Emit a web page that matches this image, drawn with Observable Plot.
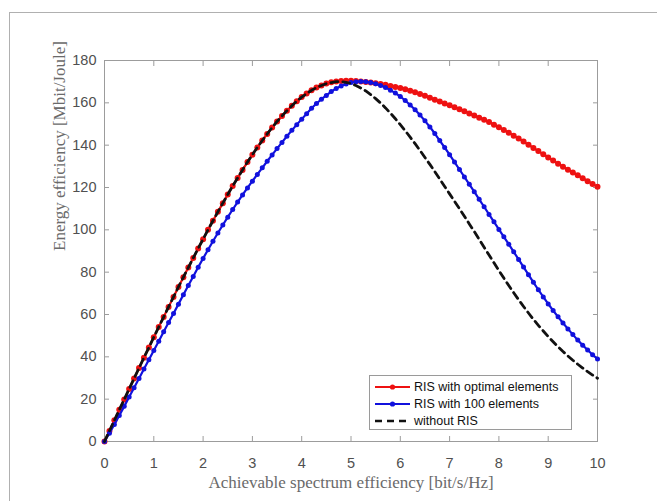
<!DOCTYPE html>
<html>
<head>
<meta charset="utf-8">
<script src="https://cdn.jsdelivr.net/npm/d3@7"></script>
<script src="https://cdn.jsdelivr.net/npm/@observablehq/plot@0.6"></script>
<style>
html,body{margin:0;padding:0;background:#fff;}
#wrap{position:relative;width:657px;height:501px;overflow:hidden;background:#fff;}
#chart{position:absolute;left:0;top:0;}
#border{position:absolute;left:9px;top:12px;width:700px;height:600px;border-left:1px solid #b0b0b0;border-top:1px solid #b0b0b0;pointer-events:none;}
#legend{position:absolute;left:369px;top:375px;width:203px;height:55px;border:1px solid #9a9a9a;background:#fff;box-sizing:border-box;padding-top:2px;font-family:"Liberation Sans",Arial,sans-serif;font-size:12.5px;color:#111;}
.row{display:flex;align-items:center;height:17px;white-space:nowrap;}
.row svg{margin-left:5px;margin-right:4px;flex:none;}
</style>
</head>
<body>
<div id="wrap"><div id="chart"></div><div id="border"></div><div id="legend"></div></div>
<script>
// ---- data ----
const xTicks = [0,1,2,3,4,5,6,7,8,9,10];
const yTicks = [0,20,40,60,80,100,120,140,160,180];
const xLabel = "Achievable spectrum efficiency [bit/s/Hz]";
const yLabel = "Energy efficiency [Mbit/Joule]";
const seriesNames = ["RIS with optimal elements", "RIS with 100 elements", "without RIS"];
const seriesColors = ["#ee1111", "#1111dd", "#111111"];

const se = [0,0.1,0.2,0.3,0.4,0.5,0.6,0.7,0.8,0.9,
  1,1.1,1.2,1.3,1.4,1.5,1.6,1.7,1.8,1.9,
  2,2.1,2.2,2.3,2.4,2.5,2.6,2.7,2.8,2.9,
  3,3.1,3.2,3.3,3.4,3.5,3.6,3.7,3.8,3.9,
  4,4.1,4.2,4.3,4.4,4.5,4.6,4.7,4.8,4.9,
  5,5.1,5.2,5.3,5.4,5.5,5.6,5.7,5.8,5.9,
  6,6.1,6.2,6.3,6.4,6.5,6.6,6.7,6.8,6.9,
  7,7.1,7.2,7.3,7.4,7.5,7.6,7.7,7.8,7.9,
  8,8.1,8.2,8.3,8.4,8.5,8.6,8.7,8.8,8.9,
  9,9.1,9.2,9.3,9.4,9.5,9.6,9.7,9.8,9.9,10];

const eeOptimal = [0,5.0,10.0,15.0,19.9,24.8,29.8,34.7,39.6,44.4,
  49.3,54.1,58.8,63.6,68.3,73.0,77.6,82.2,86.7,91.2,
  95.6,100.0,104.3,108.5,112.6,116.7,120.7,124.5,128.3,132.0,
  135.5,138.9,142.2,145.3,148.3,151.2,153.8,156.3,158.6,160.8,
  162.7,164.4,165.9,167.2,168.2,169.1,169.7,170.1,170.3,170.4,
  170.4,170.3,170.1,169.9,169.6,169.3,168.9,168.5,168.0,167.5,
  167.0,166.4,165.7,165.0,164.2,163.3,162.4,161.5,160.6,159.7,
  158.8,157.9,157.0,156.0,155.0,154.0,153.0,152.0,150.9,149.7,
  148.5,147.2,145.9,144.5,143.1,141.7,140.2,138.7,137.2,135.7,
  134.2,132.7,131.2,129.8,128.4,127.1,125.8,124.4,123.0,121.7,120.4];

const ee100 = [0,3.9,8.0,12.3,16.6,21.0,25.4,29.8,34.2,38.6,
  43.0,47.4,51.8,56.2,60.5,64.9,69.3,73.7,78.0,82.3,
  86.5,90.6,94.6,98.5,102.3,106.0,109.6,113.1,116.5,119.8,
  123.0,126.2,129.3,132.4,135.4,138.4,141.3,144.2,147.0,149.7,
  152.3,154.8,157.4,159.7,161.7,163.5,165.3,166.8,168.0,168.9,
  169.6,170.0,170.1,170.0,169.6,169.0,168.2,167.2,166.0,164.6,
  163.0,161.1,159.0,156.7,154.2,151.5,148.6,145.5,142.2,138.9,
  135.5,132.0,128.5,125.0,121.5,118.0,114.4,110.9,107.3,103.8,
  100.2,96.7,93.2,89.6,86.0,82.4,78.8,75.2,71.7,68.3,
  65.0,61.9,58.9,56.0,53.2,50.5,47.9,45.5,43.2,41.0,39.0];

const eeNoRis = [0,5.0,10.0,15.0,19.9,24.8,29.8,34.7,39.6,44.4,
  49.3,54.1,58.8,63.6,68.3,73.0,77.6,82.2,86.7,91.2,
  95.6,100.0,104.3,108.5,112.6,116.7,120.7,124.5,128.3,132.0,
  135.5,138.9,142.2,145.3,148.3,151.2,153.8,156.3,158.6,160.8,
  162.7,164.4,165.9,167.2,168.2,169.1,169.6,170.0,170.0,169.7,
  169.1,168.2,167.0,165.6,163.9,162.0,159.9,157.6,155.1,152.5,
  149.7,146.8,143.8,140.7,137.5,134.2,130.9,127.5,124.0,120.5,
  117.0,113.5,110.0,106.4,102.8,99.2,95.5,91.8,88.1,84.4,
  80.8,77.2,73.7,70.3,67.0,63.8,60.7,57.7,54.9,52.2,
  49.6,47.1,44.7,42.5,40.4,38.4,36.5,34.7,33.0,31.4,29.9];

// ---- build table ----
const rows = se.map((x, i) => ({se: x, opt: eeOptimal[i], r100: ee100[i], none: eeNoRis[i]}));

const frameGray = "#9c9c9c";
const tickText = "#505050";
const labelGray = "#6a6a6a";
const serif = "'Liberation Serif', 'Times New Roman', serif";

const chart = Plot.plot({
  width: 657,
  height: 501,
  marginLeft: 104,
  marginRight: 60,
  marginTop: 60,
  marginBottom: 60,
  x: {domain: [0, 10]},
  y: {domain: [0, 180]},
  style: {fontFamily: "'Liberation Sans', Arial, sans-serif", fontSize: "14.5px", background: "transparent", color: tickText},
  marks: [
    Plot.axisX(xTicks, {anchor: "bottom", tickSize: -5, tickPadding: 21, stroke: frameGray, fill: tickText, label: null}),
    Plot.axisX(xTicks, {anchor: "top", tickSize: -5, tickFormat: () => "", stroke: frameGray, label: null}),
    Plot.axisY(yTicks, {anchor: "left", tickSize: -5, tickPadding: 13, stroke: frameGray, fill: tickText, label: null}),
    Plot.axisY(yTicks, {anchor: "right", tickSize: -5, tickFormat: () => "", stroke: frameGray, label: null}),
    Plot.frame({stroke: frameGray, strokeWidth: 1}),
    Plot.line(rows, {x: "se", y: "opt", stroke: seriesColors[0], strokeWidth: 2.2}),
    Plot.dot(rows, {x: "se", y: "opt", r: 3, fill: seriesColors[0], stroke: "none"}),
    Plot.line(rows, {x: "se", y: "r100", stroke: seriesColors[1], strokeWidth: 2.2}),
    Plot.dot(rows, {x: "se", y: "r100", r: 2.5, fill: seriesColors[1], stroke: "none"}),
    Plot.line(rows, {x: "se", y: "none", stroke: seriesColors[2], strokeWidth: 2.8, strokeDasharray: "7,5"}),
    Plot.text([xLabel], {text: d => d, frameAnchor: "bottom", dy: 46, fontFamily: serif, fontSize: 17, fill: labelGray, ariaLabel: "xlabel"}),
    Plot.text([yLabel], {text: d => d, frameAnchor: "left", dx: -45, rotate: -90, fontFamily: serif, fontSize: 17, fill: labelGray, ariaLabel: "ylabel"})
  ]
});
document.getElementById("chart").appendChild(chart);
d3.select(chart).selectAll("g[aria-label='xlabel'] text").style("letter-spacing", "1.2px");
d3.select(chart).selectAll("g[aria-label='ylabel'] text").style("letter-spacing", "0.9px");

// ---- legend ----
const legend = d3.select("#legend");
seriesNames.forEach((name, i) => {
  const row = legend.append("div").attr("class", "row");
  const s = row.append("svg").attr("width", 35).attr("height", 10);
  if (i < 2) {
    s.append("line").attr("x1", 0).attr("x2", 35).attr("y1", 5).attr("y2", 5)
      .attr("stroke", seriesColors[i]).attr("stroke-width", 2);
    s.append("circle").attr("cx", 17.5).attr("cy", 5).attr("r", 2.6).attr("fill", seriesColors[i]);
  } else {
    s.append("line").attr("x1", 0).attr("x2", 35).attr("y1", 5).attr("y2", 5)
      .attr("stroke", seriesColors[i]).attr("stroke-width", 2.5).attr("stroke-dasharray", "7,5");
  }
  row.append("span").text(name);
});
</script>
</body>
</html>
